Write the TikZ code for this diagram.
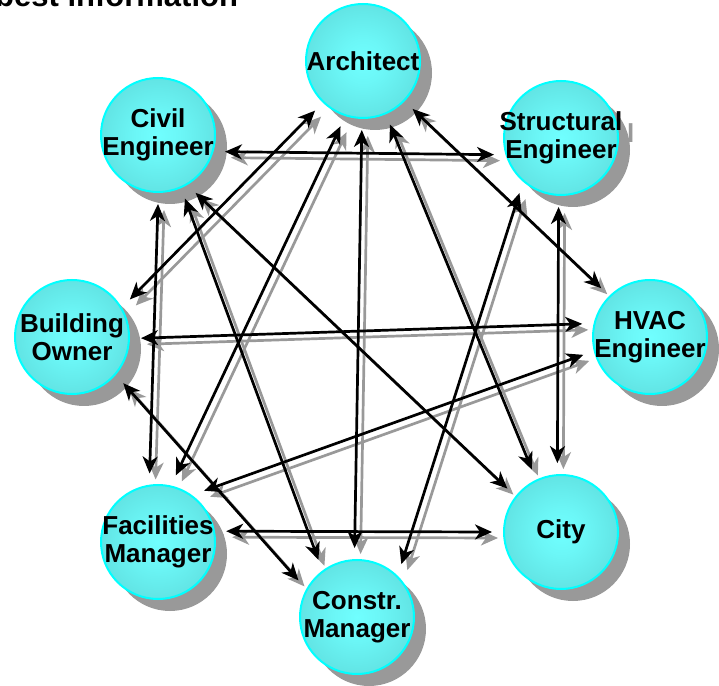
\documentclass[tikz,border=0pt]{standalone}
\usepackage{fontspec}
\setmainfont{Liberation Sans}
\usetikzlibrary{arrows.meta}
\definecolor{ballin}{HTML}{70FFFF}
\definecolor{ballout}{HTML}{52C6C6}
\definecolor{ballrim}{HTML}{00FFFF}
\definecolor{shadowgray}{HTML}{999999}
\pgfdeclareradialshading{ballshade}{\pgfpoint{0bp}{0bp}}{color(0bp)=(ballin); color(10bp)=(ballin!85!ballout); color(50bp)=(ballout)}
\tikzset{
  ball/.style={circle,minimum size=114pt,inner sep=0pt,outer sep=12pt,draw=ballrim,line width=2pt,shading=ballshade},
  ballshadow/.style={circle,minimum size=114pt,inner sep=0pt,fill=shadowgray},
  balltext/.style={font=\fontsize{26}{28}\selectfont\bfseries,align=center,inner sep=0pt},
  shadowtext/.style={balltext,text=shadowgray},
  link/.style={{Stealth[length=17pt,width=15pt,inset=5pt]}-{Stealth[length=17pt,width=15pt,inset=5pt]},line width=2.7pt},
  linkshadow/.style={link,draw=shadowgray,transform canvas={shift={(6pt,-6pt)}}},
}
\def\balls{arch/{363,624}/Architect, civil/{158,550}/{Civil\\Engineer},
  struct/{561,547}/{Structural\\Engineer}, owner/{72,348}/{Building\\Owner},
  hvac/{650,348}/{HVAC\\Engineer}, facil/{158,143}/{Facilities\\Manager},
  constr/{357,68}/{Constr.\\Manager}, city/{561,153}/City}
\def\links{civil.-14/struct.-166, civil.-90/facil.97, civil.-67/constr.124,
  civil.-57/city.141, arch.-134/owner.33, arch.-109/facil.75, arch.-91/constr.92,
  arch.-67/city.115, arch.-44/hvac.135, struct.-127/constr.50, struct.-92/city.93,
  owner.-1/hvac.169, owner.-42/constr.148, facil.48/hvac.-165, facil.9/city.180}
\begin{document}
\begin{tikzpicture}[x=1pt,y=1pt]
\useasboundingbox (0,0) rectangle (719,685);
\node[anchor=base west,inner sep=0pt,font=\fontsize{31}{34}\selectfont\bfseries] (title) at (-5,678) {best information};
% shadows first, then the balls
\foreach \n/\p/\txt in \balls
  \node[ballshadow,xshift=12pt,yshift=-12pt,label={[shadowtext]center:\txt}] at (\p) {};
\foreach \n/\p/\txt in \balls
  \node[ball,label={[balltext]center:\txt}] (\n) at (\p) {};
% links
\foreach \a/\b in \links \draw[linkshadow] (\a) -- (\b);
\foreach \a/\b in \links \draw[link] (\a) -- (\b);
\end{tikzpicture}
\end{document}
